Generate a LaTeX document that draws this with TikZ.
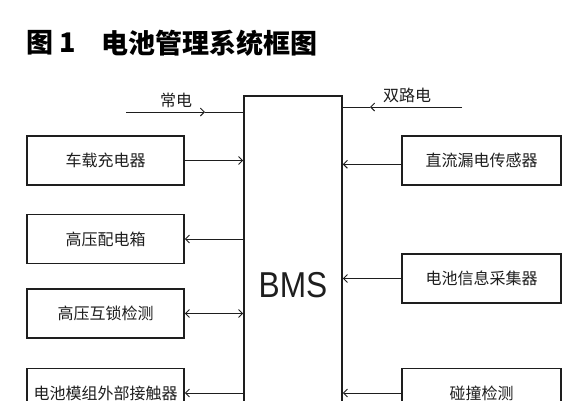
\documentclass[tikz,border=0pt]{standalone}
\usepackage{fontspec}
\setmainfont{Liberation Sans}
\newfontfamily\cjk{Noto Sans CJK SC}
\usetikzlibrary{arrows.meta}
\definecolor{ink}{HTML}{1E1E1E}
\tikzset{
  x=1pt,y=-1pt,
  box/.style={draw=ink,line width=1.6pt,minimum width=157pt,minimum height=49pt,inner sep=0pt,font=\cjk\fontsize{16}{16}\selectfont,text=ink},
  rbox/.style={box,minimum width=159pt},
  conn/.style={draw=ink,line width=0.9pt},
  tip/.style={-{Straight Barb[length=4pt,width=8pt,line width=0.9pt]}},
  lbl/.style={font=\cjk\fontsize{16}{16}\selectfont,text=ink,inner sep=0pt},
}
\begin{document}
\begin{tikzpicture}
\useasboundingbox (0,0) rectangle (578,400);
\clip (0,0) rectangle (578,400);
\fill[white] (0,0) rectangle (578,400);
% title
\node[anchor=west,inner sep=0pt,font=\cjk\bfseries\fontsize{27}{27}\selectfont,text=black] (t1) at (26,43) {图 1};
\node[anchor=west,inner sep=0pt,font=\cjk\bfseries\fontsize{27}{27}\selectfont,text=black] (t2) at (101,43) {电池管理系统框图};
% BMS
\node[draw=ink,line width=1.6pt,minimum width=98pt,minimum height=378pt,inner sep=0pt,
      font=\fontsize{36}{36}\selectfont,text=ink] (bms) at (293,285) {\scalebox{0.88}[1]{BMS}};
% left boxes
\node[box] (l1) at (105.5,160.5) {车载充电器};
\node[box] (l2) at (105.5,239) {高压配电箱};
\node[box] (l3) at (105.5,313.5) {高压互锁检测};
\node[box] (l4) at (105.5,393) {电池模组外部接触器};
% right boxes
\node[rbox] (r1) at (481.5,160.5) {直流漏电传感器};
\node[rbox] (r2) at (481.5,278.5) {电池信息采集器};
\node[rbox] (r3) at (481.5,393) {碰撞检测};
% supply lines
\coordinate (cd0) at (126,112);
\coordinate (cd1) at (205,112);
\coordinate (sl0) at (462,107);
\coordinate (sl1) at (370,107);
\draw[conn,tip] (cd0) -- (cd1);
\draw[conn] (cd1) -- (cd1 -| bms.west);
\node[lbl] (cdl) at (176,100) {常电};
\draw[conn,tip] (sl0) -- (sl1);
\draw[conn] (sl1) -- (sl1 -| bms.east);
\node[lbl] (sll) at (407,95) {双路电};
% left connectors
\draw[conn,tip] (l1.east) -- (l1.east -| bms.west);
\draw[conn,tip] (l2.east -| bms.west) -- (l2.east);
\draw[conn,{Straight Barb[length=4pt,width=8pt,line width=0.9pt]}-{Straight Barb[length=4pt,width=8pt,line width=0.9pt]}] (l3.east) -- (l3.east -| bms.west);
\draw[conn,tip] (l4.east -| bms.west) -- (l4.east);
% right connectors
\draw[conn,tip] ([yshift=-3.8pt]r1.west) -- ([yshift=-3.8pt]r1.west -| bms.east);
\draw[conn,tip] (r2.west) -- (r2.west -| bms.east);
\draw[conn,tip] (r3.west) -- (r3.west -| bms.east);
\end{tikzpicture}
\end{document}
